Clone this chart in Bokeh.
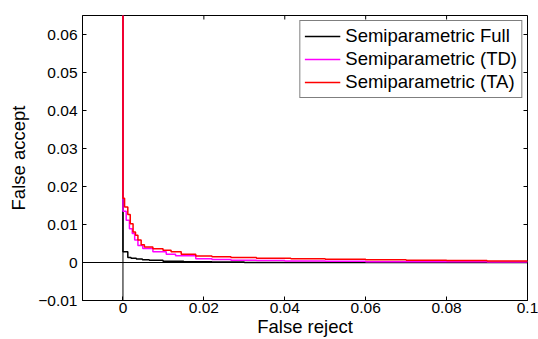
import math
from bokeh.plotting import figure
from bokeh.models import FixedTicker, Span, Range1d
from bokeh.embed import file_html
from bokeh.resources import INLINE

# ---- data ----
x_ticks = [0, 0.02, 0.04, 0.06, 0.08, 0.1]
x_tick_labels = ["0", "0.02", "0.04", "0.06", "0.08", "0.1"]
y_ticks = [-0.01, 0, 0.01, 0.02, 0.03, 0.04, 0.05, 0.06]
y_tick_labels = ["\u22120.01", "0", "0.01", "0.02", "0.03", "0.04", "0.05", "0.06"]

full_x = [0, 0, 0.0012, 0.002, 0.0033, 0.0048, 0.0065, 0.0099, 0.015, 0.022, 0.03, 0.1]
full_y = [1, 0.0028, 0.0013, 0.0011, 0.0009, 0.0007, 0.0006, 0.0003, 0.0002, 0.0001, 0.0, 0.0]

td_x = [0, 0, 0.0008, 0.0016, 0.0023, 0.0029, 0.0037, 0.0049, 0.0074, 0.0107, 0.013,
        0.018, 0.022, 0.0267, 0.033, 0.04, 0.05, 0.06, 0.07, 0.08, 0.09, 0.1]
td_y = [1, 0.0135, 0.0111, 0.0089, 0.0076, 0.0059, 0.0045, 0.0037, 0.0028, 0.0022, 0.0018,
        0.0010, 0.0008, 0.0006, 0.0005, 0.0004, 0.0003, 0.00022, 0.0002, 0.00017, 0.00016, 0.00015]

ta_x = [0, 0, 0.0004, 0.0012, 0.0018, 0.0025, 0.0031, 0.0037, 0.0045, 0.0053, 0.0074,
        0.0099, 0.0119, 0.0144, 0.018, 0.022, 0.0267, 0.033, 0.0415, 0.05, 0.06, 0.07,
        0.08, 0.09, 0.1]
ta_y = [1, 0.0169, 0.0146, 0.0126, 0.0102, 0.008, 0.0072, 0.0059, 0.0047, 0.0041, 0.0036,
        0.0032, 0.0028, 0.0022, 0.0017, 0.0015, 0.0013, 0.0011, 0.0010, 0.00085, 0.0007,
        0.0006, 0.0005, 0.0004, 0.00035]

series = [
    ("Semiparametric Full", full_x, full_y, "black"),
    ("Semiparametric (TD)", td_x, td_y, "#ff00ff"),
    ("Semiparametric (TA)", ta_x, ta_y, "#ff0000"),
]

x_label = "False reject"
y_label = "False accept"

FONT = "Liberation Sans"
X_LO, X_HI = -0.01, 0.1
Y_LO, Y_HI = -0.01, 0.065

p = figure(width=538, height=339, output_backend="svg", toolbar_location=None,
           x_range=Range1d(X_LO, X_HI), y_range=Range1d(Y_LO, Y_HI),
           min_border_left=82, min_border_right=11, min_border_top=15, min_border_bottom=39,
           x_axis_label=x_label, y_axis_label=y_label)

p.xgrid.visible = False
p.ygrid.visible = False
p.outline_line_color = "black"
p.outline_line_width = 1
p.background_fill_color = "white"
p.border_fill_color = "white"

# zero lines
p.add_layout(Span(location=0, dimension="height", line_color="black", line_width=1, level="underlay"))
p.add_layout(Span(location=0, dimension="width", line_color="black", line_width=1, level="underlay"))

# mirrored inward ticks on top and right edges (half of each dash is clipped by the frame)
p.scatter(x_ticks, [Y_HI] * len(x_ticks), marker="dash", angle=math.pi / 2, size=8,
          line_color="black", line_width=1)
p.scatter([X_HI] * len(y_ticks), y_ticks, marker="dash", size=8,
          line_color="black", line_width=1)

for name, xs, ys, col in series:
    p.step(xs, ys, mode="after", line_color=col, line_width=1.5, legend_label=name)

def style_axis(ax, ticks, labels):
    ax.ticker = FixedTicker(ticks=ticks)
    ax.major_label_overrides = {t: l for t, l in zip(ticks, labels)}
    ax.axis_line_color = "black"
    ax.major_tick_line_color = "black"
    ax.major_tick_in = 4
    ax.major_tick_out = 0
    ax.minor_tick_line_color = None
    ax.major_label_text_font = FONT
    ax.major_label_text_color = "black"
    ax.major_label_text_font_size = "15.5px"
    ax.axis_label_text_font = FONT
    ax.axis_label_text_font_style = "normal"
    ax.axis_label_text_font_size = "18.5px"
    ax.axis_label_text_color = "black"

style_axis(p.xaxis[0], x_ticks, x_tick_labels)
p.xaxis[0].major_label_standoff = 2
p.xaxis[0].axis_label_standoff = 0
style_axis(p.yaxis[0], y_ticks, y_tick_labels)
p.yaxis[0].major_label_standoff = 5
p.yaxis[0].axis_label_standoff = 6

lg = p.legend[0]
lg.location = "top_right"
lg.border_line_color = "black"
lg.border_line_width = 1
lg.background_fill_color = "white"
lg.background_fill_alpha = 1
lg.label_text_font = FONT
lg.label_text_font_size = "18.5px"
lg.label_text_color = "black"
lg.glyph_width = 36
lg.glyph_height = 20
lg.label_height = 20
lg.label_standoff = 5
lg.spacing = 1
lg.padding = 4
lg.margin = 5

open("out.html", "w").write(file_html(p, INLINE))
